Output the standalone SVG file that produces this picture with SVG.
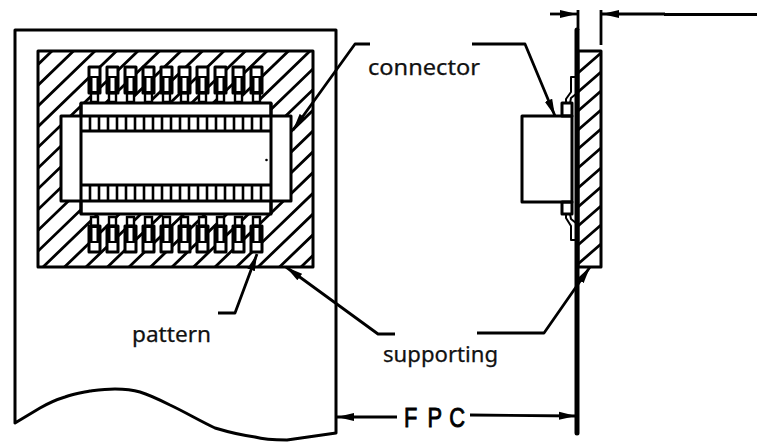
<svg xmlns="http://www.w3.org/2000/svg" width="761" height="447" viewBox="0 0 761 447">
<style>
.o{fill:none;stroke:#000;stroke-width:3;stroke-linejoin:round}
.w{fill:#fff;stroke:#000;stroke-width:3;stroke-linejoin:round}
.h{fill:none;stroke:#000;stroke-width:2.8}
.c{fill:none;stroke:#000;stroke-width:2.8;stroke-linejoin:round}
.a{marker-end:url(#ar)}
.t{font-family:"Noto Sans","DejaVu Sans",sans-serif;font-size:21px;fill:#111;stroke:#111;stroke-width:.25}
.f{font-family:"Liberation Sans",Arial,sans-serif;font-size:28px;fill:#000;stroke:#000;stroke-width:.9}
</style>
<defs>
<marker id="ar" markerUnits="userSpaceOnUse" markerWidth="20" markerHeight="10" refX="17" refY="5" orient="auto"><path d="M0 1L17 5L0 9Z" fill="#000"/></marker>
<clipPath id="cp"><rect x="38" y="51" width="275" height="216"/></clipPath>
<g id="pt">
<path d="M2 26H9V35H2Z" fill="#fff" stroke="#000" stroke-width="2.400"/>
<rect class="w" x="0" y="0" width="11" height="26"/>
<path d="M0 9H11V26H0Z" fill="#000"/>
<rect x="3.500" y="11" width="4" height="13" fill="#fff"/>
</g>
</defs>
<g id="fpc-sheet"><path class="o" d="M15 423V30H336V433L287 440Q265 440 255 437C240 435 225 431 215 428C200 421 185 412 170 405C158 399 150 395 140 392C130 389 123 389 115 389C105 389 98 390 90 391C80 393 73 394 65 397C55 400 47 404 40 408Z"/></g>
<g id="pattern">
<rect x="38" y="51" width="275" height="216" fill="#fff"/>
<path class="h" clip-path="url(#cp)" d="M52 51l-224 216M73.500 51l-224 216M95 51l-224 216M116.500 51l-224 216M138 51l-224 216M159.500 51l-224 216M181 51l-224 216M202.500 51l-224 216M224 51l-224 216M245.500 51l-224 216M267 51l-224 216M288.500 51l-224 216M310 51l-224 216M331.500 51l-224 216M353 51l-224 216M374.500 51l-224 216M396 51l-224 216M417.500 51l-224 216M439 51l-224 216M460.500 51l-224 216M482 51l-224 216M503.500 51l-224 216M525 51l-224 216"/>
<rect class="o" x="38" y="51" width="275" height="216"/>
</g>
<g id="pins">
<use href="#pt" x="89" y="67"/><use href="#pt" x="107" y="67"/><use href="#pt" x="125" y="67"/><use href="#pt" x="143" y="67"/><use href="#pt" x="161" y="67"/><use href="#pt" x="179" y="67"/><use href="#pt" x="197" y="67"/><use href="#pt" x="215" y="67"/><use href="#pt" x="233" y="67"/><use href="#pt" x="251" y="67"/>
<g transform="translate(0,319) scale(1,-1)"><use href="#pt" x="89" y="67"/><use href="#pt" x="107" y="67"/><use href="#pt" x="125" y="67"/><use href="#pt" x="143" y="67"/><use href="#pt" x="161" y="67"/><use href="#pt" x="179" y="67"/><use href="#pt" x="197" y="67"/><use href="#pt" x="215" y="67"/><use href="#pt" x="233" y="67"/><use href="#pt" x="251" y="67"/></g>
</g>
<g id="connector-top">
<rect class="w" x="81" y="103" width="190" height="111"/>
<rect class="w" x="61" y="116" width="230" height="85"/>
<path class="o" d="M81 103V214M271 103V214M81 131H271M81 185H271"/>
<path class="o" style="stroke-width:2.600" d="M90 116V131M99 116V131M108 116V131M117 116V131M126 116V131M135 116V131M144 116V131M153 116V131M162 116V131M171 116V131M180 116V131M189 116V131M198 116V131M207 116V131M216 116V131M225 116V131M234 116V131M243 116V131M252 116V131M261 116V131M90 185V201M99 185V201M108 185V201M117 185V201M126 185V201M135 185V201M144 185V201M153 185V201M162 185V201M171 185V201M180 185V201M189 185V201M198 185V201M207 185V201M216 185V201M225 185V201M234 185V201M243 185V201M252 185V201M261 185V201"/>
<circle cx="266.500" cy="160" r="1.300" fill="#000"/>
</g>
<g id="support-side">
<rect class="o" x="578" y="51" width="23" height="216"/>
<path class="h" d="M601 53l-23 20M601 72l-23 20M601 91l-23 20M601 110l-23 20M601 129l-23 20M601 148l-23 20M601 168l-23 20M601 187l-23 20M601 206l-23 20M601 225l-23 20M601 244l-23 20"/>
</g>
<g id="connector-side">
<rect class="o" x="522" y="116" width="50" height="86"/>
<rect class="o" x="562" y="103" width="10" height="13"/>
<rect class="o" x="562" y="202" width="10" height="12"/>
<path class="o" style="stroke-width:2" d="M576 77H571V92L566 99V103M576 94L571 98L570 103M576 240H571V226L566 218V214M576 223L571 219L570 214"/>
</g>
<g id="fpc-side"><path d="M577 30V433" stroke="#000" stroke-width="5" stroke-linecap="round" fill="none"/></g>
<g id="connectors">
<path class="c" d="M578 10V30M601 10V45"/>
<path class="c" d="M550 14H577" marker-end="url(#ar)"/>
<path class="c" d="M665 14H602" marker-end="url(#ar)"/>
<path class="c" d="M664 14.500H757"/>
<path class="c a" d="M370 44H355L293 130"/>
<path class="c a" d="M472 44H525L555 116"/>
<path class="c a" d="M218 313H235L257 254"/>
<path class="c a" d="M395 334H378L286 267"/>
<path class="c a" d="M477 333H544L590 267"/>
<path class="c a" d="M397 417H337"/>
<path class="c a" d="M470 415L576 416"/>
</g>
<g id="labels">
<text class="t" x="368" y="75" textLength="112" lengthAdjust="spacingAndGlyphs">connector</text>
<text class="t" x="132" y="342" textLength="79" lengthAdjust="spacingAndGlyphs">pattern</text>
<text class="t" x="383" y="362" textLength="115" lengthAdjust="spacingAndGlyphs">supporting</text>
<text class="f" transform="translate(404,427) scale(.78,1)" x="0 30 58" y="0">FPC</text>
</g>
</svg>
